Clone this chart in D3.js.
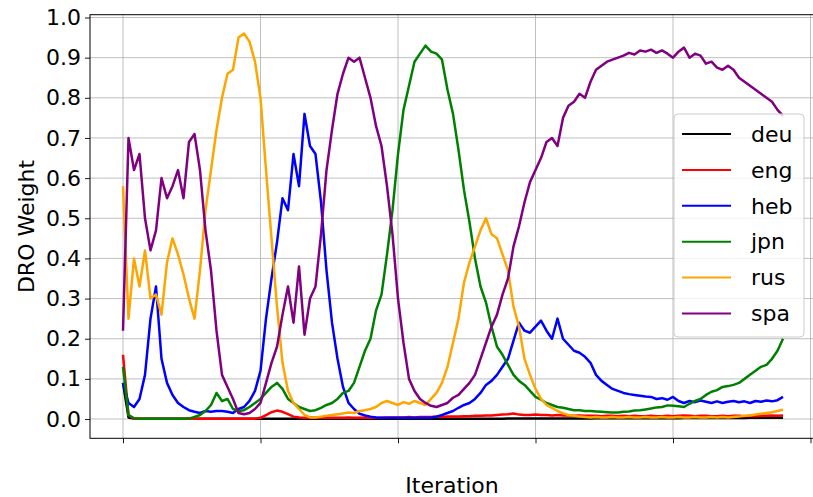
<!DOCTYPE html>
<html>
<head>
<meta charset="utf-8">
<style>
  body { margin: 0; background: #fff; }
  svg text { font-family: "DejaVu Sans", sans-serif; fill: #000; }
</style>
</head>
<body>
<div id="chart"></div>
<script src="https://d3js.org/d3.v7.min.js"></script>
<script>
// one sample every STEP iterations
var STEP = 40;
var xTicks = [0, 1000, 2000, 3000, 4000, 5000];
var yTicks = [0.0, 0.1, 0.2, 0.3, 0.4, 0.5, 0.6, 0.7, 0.8, 0.9, 1.0];
var languages = ["deu", "eng", "heb", "jpn", "rus", "spa"];
var colors = ["black", "red", "blue", "green", "orange", "purple"];

var deu = [0.09,0.004,0.001,0.0005,0.0005,0.0005,0.0005,0.0005,0.0005,0.0005,
  0.0005,0.0005,0.0005,0.0005,0.0005,0.0005,0.0005,0.0005,0.0005,0.0005,
  0.0005,0.0005,0.0005,0.0005,0.0005,0.0005,0.0005,0.0005,0.0005,0.0005,
  0.0005,0.0005,0.0005,0.0005,0.0005,0.0005,0.0005,0.0005,0.0005,0.0005,
  0.0005,0.0005,0.0005,0.0005,0.0005,0.0005,0.0005,0.0005,0.0005,0.0005,
  0.0005,0.0005,0.0005,0.0005,0.0005,0.0005,0.0005,0.0005,0.0005,0.0005,
  0.001,0.001,0.001,0.001,0.001,0.001,0.001,0.001,0.001,0.001,
  0.0012,0.0012,0.0012,0.0012,0.0012,0.0014,0.0014,0.0014,0.0014,0.0014,
  0.0015,0.0015,0.0015,0.0016,0.0016,0.0016,0.0017,0.0017,0.0017,0.0018,
  0.0018,0.0018,0.0019,0.0019,0.002,0.002,0.002,0.0021,0.0021,0.0021,
  0.0022,0.0022,0.0023,0.0023,0.0024,0.0024,0.0025,0.0025,0.0026,0.0026,
  0.0027,0.0027,0.0028,0.0028,0.0029,0.0029,0.003,0.003,0.003,0.0031,
  0.0032];

var eng = [0.16,0.01,0.001,0.001,0.001,0.001,0.001,0.001,0.001,0.001,
  0.001,0.001,0.001,0.001,0.001,0.001,0.001,0.001,0.001,0.001,
  0.001,0.001,0.001,0.001,0.001,0.003,0.01,0.017,0.021,0.018,
  0.012,0.006,0.004,0.003,0.004,0.003,0.003,0.004,0.003,0.003,
  0.003,0.004,0.003,0.003,0.004,0.003,0.003,0.003,0.004,0.004,
  0.004,0.004,0.005,0.004,0.005,0.005,0.005,0.006,0.005,0.006,
  0.006,0.006,0.007,0.007,0.008,0.008,0.009,0.009,0.010,0.011,
  0.012,0.014,0.011,0.010,0.010,0.011,0.010,0.010,0.009,0.010,
  0.009,0.009,0.008,0.009,0.008,0.008,0.008,0.007,0.008,0.008,
  0.007,0.008,0.007,0.008,0.007,0.007,0.008,0.007,0.007,0.008,
  0.007,0.008,0.009,0.008,0.007,0.008,0.008,0.007,0.007,0.008,
  0.007,0.008,0.008,0.007,0.008,0.007,0.008,0.008,0.009,0.008,
  0.009];

var heb = [0.09,0.04,0.03,0.05,0.11,0.25,0.33,0.15,0.09,0.06,
  0.04,0.03,0.022,0.018,0.015,0.02,0.018,0.02,0.02,0.018,
  0.015,0.025,0.03,0.045,0.07,0.12,0.25,0.35,0.44,0.55,
  0.52,0.66,0.58,0.76,0.68,0.66,0.54,0.37,0.24,0.15,
  0.08,0.04,0.025,0.013,0.009,0.006,0.004,0.003,0.003,0.003,
  0.003,0.003,0.003,0.003,0.003,0.003,0.004,0.006,0.01,0.015,
  0.02,0.028,0.035,0.04,0.05,0.065,0.085,0.095,0.11,0.13,
  0.15,0.195,0.24,0.22,0.215,0.23,0.245,0.22,0.20,0.25,
  0.20,0.185,0.17,0.165,0.155,0.14,0.11,0.095,0.085,0.075,
  0.07,0.065,0.062,0.06,0.058,0.056,0.055,0.05,0.052,0.048,
  0.055,0.045,0.04,0.045,0.042,0.046,0.043,0.04,0.044,0.04,
  0.043,0.045,0.042,0.044,0.04,0.045,0.043,0.046,0.044,0.047,
  0.055];

var jpn = [0.13,0.01,0.002,0.001,0.001,0.001,0.001,0.001,0.001,0.001,
  0.001,0.001,0.001,0.005,0.01,0.02,0.035,0.065,0.045,0.05,
  0.025,0.02,0.022,0.03,0.04,0.05,0.065,0.08,0.09,0.075,
  0.05,0.04,0.03,0.025,0.02,0.022,0.028,0.035,0.04,0.05,
  0.065,0.07,0.09,0.13,0.17,0.20,0.27,0.31,0.41,0.52,
  0.66,0.77,0.83,0.89,0.91,0.93,0.915,0.91,0.895,0.82,
  0.76,0.67,0.57,0.49,0.40,0.33,0.29,0.23,0.18,0.16,
  0.135,0.11,0.095,0.085,0.07,0.055,0.048,0.04,0.035,0.03,
  0.028,0.025,0.022,0.022,0.02,0.02,0.019,0.018,0.017,0.016,
  0.016,0.018,0.019,0.021,0.022,0.024,0.026,0.029,0.03,0.034,
  0.033,0.032,0.03,0.038,0.045,0.05,0.06,0.068,0.072,0.08,
  0.082,0.085,0.09,0.10,0.11,0.12,0.13,0.135,0.15,0.17,
  0.20];

var rus = [0.58,0.25,0.40,0.33,0.42,0.30,0.31,0.26,0.39,0.45,
  0.41,0.36,0.30,0.25,0.37,0.52,0.62,0.72,0.80,0.86,
  0.87,0.95,0.96,0.94,0.89,0.80,0.62,0.45,0.28,0.14,
  0.07,0.04,0.025,0.01,0.004,0.004,0.006,0.008,0.01,0.012,
  0.014,0.016,0.015,0.02,0.022,0.025,0.03,0.04,0.045,0.04,
  0.035,0.042,0.038,0.045,0.04,0.035,0.05,0.065,0.09,0.13,
  0.19,0.25,0.34,0.39,0.43,0.47,0.50,0.46,0.45,0.41,
  0.37,0.28,0.23,0.15,0.11,0.075,0.05,0.035,0.028,0.02,
  0.014,0.01,0.008,0.006,0.005,0.004,0.005,0.004,0.004,0.005,
  0.004,0.004,0.005,0.004,0.004,0.005,0.004,0.004,0.005,0.004,
  0.004,0.005,0.004,0.004,0.005,0.004,0.004,0.005,0.004,0.005,
  0.004,0.005,0.006,0.008,0.009,0.011,0.013,0.015,0.017,0.02,
  0.023];

var spa = [0.22,0.70,0.62,0.66,0.50,0.42,0.47,0.60,0.55,0.58,
  0.62,0.55,0.69,0.71,0.62,0.47,0.37,0.22,0.11,0.08,
  0.05,0.015,0.012,0.015,0.025,0.04,0.09,0.14,0.18,0.26,
  0.33,0.24,0.38,0.21,0.30,0.33,0.46,0.62,0.72,0.81,
  0.86,0.90,0.89,0.90,0.85,0.80,0.73,0.68,0.58,0.46,
  0.30,0.19,0.10,0.07,0.05,0.04,0.033,0.03,0.035,0.04,
  0.053,0.06,0.075,0.09,0.11,0.15,0.19,0.23,0.26,0.31,
  0.35,0.43,0.48,0.54,0.59,0.62,0.65,0.69,0.70,0.68,
  0.75,0.78,0.79,0.81,0.80,0.84,0.87,0.88,0.89,0.895,
  0.90,0.905,0.912,0.908,0.918,0.915,0.92,0.912,0.918,0.91,
  0.90,0.915,0.925,0.90,0.91,0.905,0.885,0.89,0.875,0.87,
  0.88,0.87,0.85,0.84,0.83,0.82,0.81,0.80,0.79,0.77,
  0.755];

var series = [deu, eng, heb, jpn, rus, spa];

var W = 813, H = 497;
var pL = 90, pR = 816, pT = 14.7, pB = 438.3;

var svg = d3.select("#chart").append("svg")
  .attr("width", W).attr("height", H);

var x = d3.scaleLinear().domain([-240, 5040]).range([pL, pR]);
var y = d3.scaleLinear().domain([-0.048, 1.007]).range([pB, pT]);

// grid
svg.append("g").selectAll("line").data(yTicks).join("line")
  .attr("x1", pL).attr("x2", pR)
  .attr("y1", d => y(d)).attr("y2", d => y(d))
  .attr("stroke", "#b0b0b0").attr("stroke-width", 1).attr("opacity", 0.8);
svg.append("g").selectAll("line").data(xTicks).join("line")
  .attr("x1", d => x(d)).attr("x2", d => x(d))
  .attr("y1", pT).attr("y2", pB)
  .attr("stroke", "#b0b0b0").attr("stroke-width", 1).attr("opacity", 0.8);

svg.append("clipPath").attr("id", "clip").append("rect")
  .attr("x", pL).attr("y", pT).attr("width", pR - pL).attr("height", pB - pT);

var line = d3.line()
  .x((d, i) => x(i * STEP))
  .y(d => y(d));

svg.append("g").attr("clip-path", "url(#clip)")
  .selectAll("path").data(series).join("path")
  .attr("d", d => line(d))
  .attr("fill", "none")
  .attr("stroke", (d, i) => colors[i])
  .attr("stroke-width", 2.5)
  .attr("stroke-linejoin", "round");

// axes
var yAxis = svg.append("g").attr("transform", "translate(" + pL + ",0)")
  .call(d3.axisLeft(y).tickValues(yTicks).tickFormat(d3.format(".1f")).tickSize(5).tickPadding(4));
var xAxis = svg.append("g").attr("transform", "translate(0," + pB + ")")
  .call(d3.axisBottom(x).tickValues(xTicks).tickFormat("").tickSize(5));
[yAxis, xAxis].forEach(function (a) {
  a.select(".domain").remove();
  a.selectAll("line").attr("stroke", "#000").attr("stroke-width", 0.9);
});
yAxis.selectAll("text").attr("font-size", 22).attr("font-family", "DejaVu Sans").attr("fill", "#000");

// spines
svg.append("rect")
  .attr("x", pL).attr("y", pT).attr("width", pR - pL).attr("height", pB - pT)
  .attr("fill", "none").attr("stroke", "#000").attr("stroke-width", 1);

svg.append("text").attr("transform", "translate(34," + (pT + pB) / 2 + ") rotate(-90)")
  .attr("text-anchor", "middle").attr("font-size", 22).text("DRO Weight");
svg.append("text").attr("x", (pL + pR) / 2 - 1).attr("y", 493)
  .attr("text-anchor", "middle").attr("font-size", 22).text("Iteration");

// legend
var lg = svg.append("g").attr("transform", "translate(674,114)");
lg.append("rect").attr("width", 130).attr("height", 223).attr("rx", 4)
  .attr("fill", "#fff").attr("fill-opacity", 0.8)
  .attr("stroke", "#cccccc").attr("stroke-width", 1);
var item = lg.selectAll("g.item").data(languages).join("g")
  .attr("class", "item")
  .attr("transform", (d, i) => "translate(0," + (20 + i * 35.9) + ")");
item.append("line").attr("x1", 8).attr("x2", 57)
  .attr("stroke", (d, i) => colors[i]).attr("stroke-width", 2);
item.append("text").attr("x", 77).attr("dy", "0.35em")
  .attr("font-size", 22).text(d => d);
</script>
</body>
</html>
